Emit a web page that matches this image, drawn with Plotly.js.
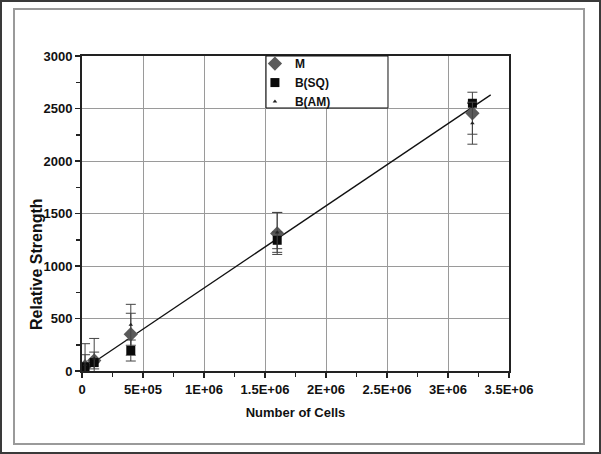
<!DOCTYPE html>
<html><head><meta charset="utf-8">
<script src="https://cdn.plot.ly/plotly-3.0.1.min.js"></script>
<style>
html,body{margin:0;padding:0;background:#fff;}
#wrap{position:relative;width:601px;height:454px;}
#plot{position:absolute;left:0;top:0;width:601px;height:454px;}
#outer{position:absolute;left:0;top:0;width:601px;height:454px;box-sizing:border-box;border:2px solid #3a3a3a;pointer-events:none;}
#inner{position:absolute;left:13px;top:8px;width:572px;height:437px;box-sizing:border-box;border:2px solid #9a9a9a;pointer-events:none;}
</style></head>
<body><div id="wrap"><div id="plot"></div><div id="outer"></div><div id="inner"></div></div>
<script>
// Data
const cells = [25000, 100000, 400000, 1600000, 3200000];
const M = [45, 100, 350, 1310, 2455];
const M_err = [110, 80, 200, 200, 200];
const BSQ = [40, 80, 195, 1245, 2550];
const BSQ_err = [0, 0, 100, 80, 0];
const BAM = [60, 120, 440, 1320, 2360];
const BAM_err = [200, 190, 195, 190, 200];
const fitX = [100000, 3350000];
const fitY = [85, 2630];
const xTickVals = [0, 500000, 1000000, 1500000, 2000000, 2500000, 3000000, 3500000];
const xTickText = ['0', '5E+05', '1E+06', '1.5E+06', '2E+06', '2.5E+06', '3E+06', '3.5E+06'];
const yTickVals = [0, 500, 1000, 1500, 2000, 2500, 3000];

const fam = 'Liberation Sans, Arial, sans-serif';
const font = {family: fam, size: 13, color: '#111', weight: 'bold'};
const errStyle = (arr) => ({type: 'data', array: arr, visible: true, color: '#444', thickness: 1, width: 5});

const traces = [
  {x: fitX, y: fitY, mode: 'lines', line: {color: '#111', width: 1.3}, showlegend: false, hoverinfo: 'skip'},
  {x: cells, y: M, name: 'M', mode: 'markers', marker: {symbol: 'diamond', size: 11, color: '#5a5a5a'}, error_y: errStyle(M_err)},
  {x: cells, y: BSQ, name: 'B(SQ)', mode: 'markers', marker: {symbol: 'square', size: 9, color: '#0a0a0a'}, error_y: errStyle(BSQ_err)},
  {x: cells, y: BAM, name: 'B(AM)', mode: 'markers', marker: {symbol: 'triangle-up', size: 4, color: '#222'}, error_y: errStyle(BAM_err)}
];

const layout = {
  width: 601, height: 454,
  margin: {l: 82, r: 92, t: 56, b: 83},
  paper_bgcolor: 'rgba(0,0,0,0)', plot_bgcolor: '#fff',
  font: font,
  showlegend: true,
  legend: {x: 0.405, y: 1.022, xanchor: 'left', yanchor: 'top', bgcolor: 'rgba(0,0,0,0)', borderwidth: 0,
           font: {family: fam, size: 12, color: '#111', weight: 'bold'}, tracegroupgap: 0, itemwidth: 30},
  shapes: [
    {type: 'rect', xref: 'paper', yref: 'paper', x0: 0.431, x1: 0.7166, y0: 0.835, y1: 1,
     fillcolor: '#fff', line: {color: '#111', width: 1}, layer: 'above'}
  ],
  annotations: [
    {text: 'Relative Strength', xref: 'paper', yref: 'paper', x: -0.1054, y: 0.3397, textangle: -90,
     showarrow: false, xanchor: 'center', yanchor: 'middle', font: {family: fam, size: 16, color: '#111', weight: 'bold'}}
  ],
  xaxis: {
    range: [0, 3500000], tickvals: xTickVals, ticktext: xTickText,
    showgrid: true, gridcolor: '#9a9a9a', gridwidth: 1, zeroline: false,
    showline: true, linecolor: '#222', linewidth: 2, mirror: true,
    ticks: 'outside', ticklen: 5, tickcolor: '#222', tickwidth: 1.5,
    minor: {dtick: 250000, tick0: 0, ticks: 'outside', ticklen: 4, tickcolor: '#222', tickwidth: 1.5, showgrid: false},
    tickfont: font,
    title: {text: 'Number of Cells', font: {family: fam, size: 13, color: '#111', weight: 'bold'}, standoff: 12}
  },
  yaxis: {
    range: [0, 3000], tickvals: yTickVals,
    showgrid: true, gridcolor: '#9a9a9a', gridwidth: 1, zeroline: false,
    showline: true, linecolor: '#222', linewidth: 2, mirror: true,
    ticks: 'outside', ticklen: 5, tickcolor: '#222', tickwidth: 1.5,
    minor: {dtick: 250, tick0: 0, ticks: 'outside', ticklen: 4, tickcolor: '#222', tickwidth: 1.5, showgrid: false},
    tickfont: font
  }
};

Plotly.newPlot('plot', traces, layout, {staticPlot: true, displayModeBar: false});
</script>
</body></html>
